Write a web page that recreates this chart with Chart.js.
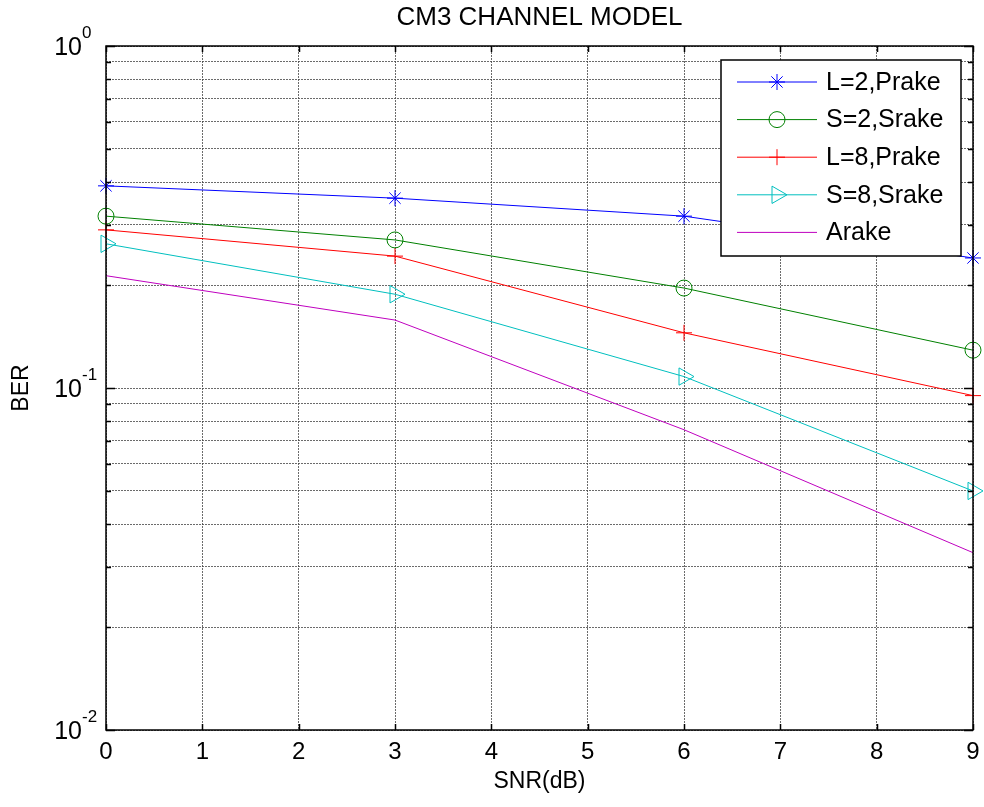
<!DOCTYPE html>
<html>
<head>
<meta charset="utf-8">
<script src="https://cdn.jsdelivr.net/npm/chart.js@4.4.1/dist/chart.umd.min.js"></script>
<style>
  body { margin: 0; background: #fff; }
  #wrap { width: 984px; height: 807px; position: relative; }
</style>
</head>
<body>
<div id="wrap"><canvas id="berChart"></canvas></div>
<script>
const snr = [0, 3, 6, 9];
const berL2Prake = [0.390, 0.359, 0.318, 0.240];
const berS2Srake = [0.318, 0.271, 0.196, 0.129];
const berL8Prake = [0.290, 0.243, 0.145, 0.095];
const berS8Srake = [0.264, 0.188, 0.108, 0.050];
const berArake = [0.213, 0.158, 0.0755, 0.033];

const xTicks = [0, 1, 2, 3, 4, 5, 6, 7, 8, 9];
const yDecades = [0.01, 0.1, 1];
const yExponents = ["-2", "-1", "0"];
const seriesNames = ["L=2,Prake", "S=2,Srake", "L=8,Prake", "S=8,Srake", "Arake"];

const FONT = '"Liberation Sans", Arial, sans-serif';

function pts(values) {
  return snr.map((x, i) => ({ x: x, y: values[i] }));
}

const seriesStyle = [
  { color: "#0000FF", pointStyle: "star", radius: 8, rotation: 0 },
  { color: "#008000", pointStyle: "circle", radius: 8, rotation: 0 },
  { color: "#FF0000", pointStyle: "cross", radius: 8, rotation: 0 },
  { color: "#00BFBF", pointStyle: "triangle", radius: 10, rotation: 90 },
  { color: "#BF00BF", pointStyle: false, radius: 0, rotation: 0 }
];

const seriesValues = [berL2Prake, berS2Srake, berL8Prake, berS8Srake, berArake];

const datasets = seriesValues.map((vals, i) => {
  const s = seriesStyle[i];
  return {
    label: seriesNames[i],
    data: pts(vals),
    borderColor: s.color,
    borderWidth: 1,
    pointStyle: s.pointStyle || "circle",
    pointRadius: s.radius,
    pointRotation: s.rotation,
    pointBorderColor: s.color,
    pointBackgroundColor: "rgba(0,0,0,0)",
    pointBorderWidth: 1,
    tension: 0,
    clip: false
  };
});

// minor + major log ticks
const yTickValues = [];
yDecades.forEach((d, i) => {
  if (i === yDecades.length - 1) { yTickValues.push(d); return; }
  for (let k = 1; k <= 9; k++) yTickValues.push(+(d * k).toPrecision(3));
});

const decorPlugin = {
  id: "decor",
  afterDraw(chart) {
    const ctx = chart.ctx;
    const a = chart.chartArea;
    const xs = chart.scales.x;
    const ys = chart.scales.y;
    ctx.save();

    // frame
    ctx.strokeStyle = "#000";
    ctx.lineWidth = 1.5;
    ctx.strokeRect(a.left, a.top, a.right - a.left, a.bottom - a.top);

    // inner ticks
    ctx.lineWidth = 1.5;
    ctx.beginPath();
    xTicks.forEach(v => {
      const px = Math.round(xs.getPixelForValue(v)) + 0.5;
      ctx.moveTo(px, a.bottom); ctx.lineTo(px, a.bottom - 6);
      ctx.moveTo(px, a.top); ctx.lineTo(px, a.top + 6);
    });
    yTickValues.forEach(v => {
      const py = Math.round(ys.getPixelForValue(v)) + 0.5;
      const len = yDecades.includes(v) ? 9 : 5;
      ctx.moveTo(a.left, py); ctx.lineTo(a.left + len, py);
      ctx.moveTo(a.right, py); ctx.lineTo(a.right - len, py);
    });
    ctx.stroke();

    // y tick labels 10^n
    ctx.fillStyle = "#000";
    ctx.textBaseline = "middle";
    yDecades.forEach((v, i) => {
      const py = ys.getPixelForValue(v);
      ctx.font = "17px " + FONT;
      ctx.textAlign = "left";
      ctx.fillText(yExponents[i], 82, py - 13);
      ctx.font = "25px " + FONT;
      ctx.textAlign = "right";
      ctx.fillText("10", 82, py + 2);
    });

    // title
    ctx.font = "26px " + FONT;
    ctx.textAlign = "center";
    ctx.fillText("CM3 CHANNEL MODEL", (a.left + a.right) / 2, 18);

    // x title
    ctx.font = "23px " + FONT;
    ctx.fillText("SNR(dB)", (a.left + a.right) / 2, 782);

    // y title
    ctx.save();
    ctx.translate(22, (a.top + a.bottom) / 2);
    ctx.rotate(-Math.PI / 2);
    ctx.fillText("BER", 0, 0);
    ctx.restore();

    // legend
    const lx = 721, ly = 60, lw = 240, lh = 196;
    ctx.fillStyle = "#fff";
    ctx.fillRect(lx, ly, lw, lh);
    ctx.strokeStyle = "#000";
    ctx.lineWidth = 1.5;
    ctx.strokeRect(lx, ly, lw, lh);
    ctx.font = "25px " + FONT;
    ctx.textAlign = "left";
    ctx.textBaseline = "middle";
    seriesNames.forEach((name, i) => {
      const s = seriesStyle[i];
      const rowY = 82 + i * 37.6;
      ctx.strokeStyle = s.color;
      ctx.lineWidth = 1;
      ctx.beginPath();
      ctx.moveTo(737, rowY); ctx.lineTo(817, rowY);
      ctx.stroke();
      if (s.pointStyle) {
        ctx.fillStyle = "rgba(0,0,0,0)";
        Chart.helpers.drawPoint(ctx, {
          pointStyle: s.pointStyle,
          radius: s.radius,
          rotation: s.rotation,
          borderWidth: 1
        }, 777, rowY);
      }
      ctx.fillStyle = "#000";
      ctx.fillText(name, 826, rowY + 1);
    });

    ctx.restore();
  }
};

new Chart(document.getElementById("berChart"), {
  type: "line",
  data: { datasets: datasets },
  options: {
    responsive: true,
    maintainAspectRatio: false,
    animation: false,
    layout: { padding: { top: 46, right: 9, left: 0, bottom: 0 } },
    plugins: {
      legend: { display: false },
      title: { display: false },
      tooltip: { enabled: false }
    },
    scales: {
      x: {
        type: "linear",
        min: 0,
        max: 9,
        afterBuildTicks: scale => { scale.ticks = xTicks.map(v => ({ value: v })); },
        afterFit: scale => {
          scale.height = 77;
          scale.paddingLeft = 0;
          scale.paddingRight = 0;
        },
        ticks: {
          color: "#000",
          font: { family: FONT, size: 24 },
          padding: 8,
          maxRotation: 0,
          autoSkip: false
        },
        grid: { color: "rgba(70,70,70,0.8)", lineWidth: 1, drawTicks: false },
        border: { display: false, dash: [2, 1] }
      },
      y: {
        type: "logarithmic",
        min: 0.01,
        max: 1,
        afterBuildTicks: scale => { scale.ticks = yTickValues.map(v => ({ value: v })); },
        afterFit: scale => { scale.width = 106; },
        ticks: { display: false, autoSkip: false },
        grid: { color: "rgba(70,70,70,0.8)", lineWidth: 1, drawTicks: false },
        border: { display: false, dash: [2, 1] }
      }
    }
  },
  plugins: [decorPlugin]
});
</script>
</body>
</html>
